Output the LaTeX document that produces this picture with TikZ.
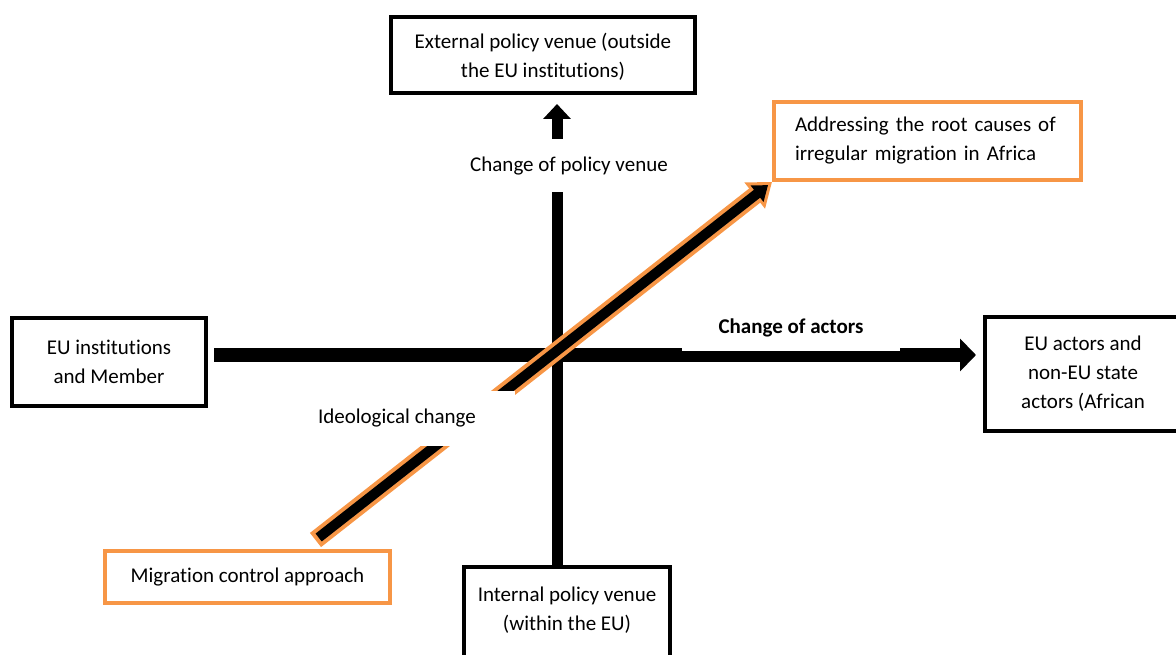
\documentclass[tikz,border=0pt]{standalone}
\usepackage{fontspec}
\setmainfont{Carlito}[Ligatures=NoCommon]
\usetikzlibrary{
  arrows.meta, % For arrow tips
  positioning
}
\definecolor{accentorange}{HTML}{F79646}

\begin{document}
\begin{tikzpicture}[
      x=1pt, y=-1pt, % Pixel-like units, y axis pointing down
      font=\fontsize{21}{29}\selectfont, % Default text
      venuebox/.style={draw=black, line width=4pt, align=center, inner sep=0pt}, % Style for actor/venue boxes
      approachbox/.style={draw=accentorange, line width=4pt, inner sep=0pt}, % Style for the two approaches
      axis/.style={black, -{Triangle[length=16pt,width=32pt]}}, % Style for the thick axes
      axislabel/.style={fill=white, inner sep=0pt}, % Labels cut the lines below them
    ]

    % Frame of the figure
    \clip (0,0) rectangle (1176,655);

    % Boxes at the ends of the axes
    \node[venuebox, minimum width=304pt, minimum height=76pt, text depth=0pt] (external) at (543,55) {External policy venue (outside\\the EU institutions)};
    \node[venuebox, minimum width=194pt, minimum height=88pt] (institutions) at (109,362) {EU institutions\\and Member};
    \node[venuebox, minimum width=196pt, minimum height=114pt] (actors) at (1083,374) {EU actors and\\non-EU state\\actors (African};
    \node[venuebox, minimum width=206pt, minimum height=96pt, text depth=12pt] (internal) at (567,615) {Internal policy venue\\(within the EU)};

    % The two approaches
    \node[approachbox, minimum width=285pt, minimum height=52pt] (control) at (247.5,577) {Migration control approach};
    \node[approachbox, minimum width=307pt, minimum height=78pt, text width=265pt, align=left] (rootcauses) at (927.5,141) {Addressing the root causes of\\irregular migration in Africa};

    % Change of actors (horizontal)
    \coordinate (hstart) at ([yshift=7pt]institutions.east);
    \draw[axis, line width=14pt, shorten <=6pt, shorten >=7pt] (hstart) -- (hstart -| actors.west);

    % Change of policy venue (vertical)
    \coordinate (vstart) at ([xshift=-10pt]internal.north);
    \draw[axis, line width=11pt, shorten >=9pt, -{Triangle[length=15pt,width=27pt]}] (vstart) -- (vstart |- external.south);

    % Ideological change (diagonal, orange rim)
    \coordinate (dstart) at ([xshift=68pt,yshift=9pt]control.north);
    \draw[accentorange, line width=18pt, -{Triangle[length=22pt,width=32pt]}] (dstart) -- (rootcauses.south west);
    \draw[black, line width=10pt, shorten <=4pt, shorten >=5pt, -{Triangle[length=14pt,width=20pt]}] (dstart) -- (rootcauses.south west);

    % Axis labels
    \node[axislabel, minimum width=218pt, minimum height=46pt, font=\fontsize{21}{29}\selectfont\bfseries] (actorslabel) at (791,328) {Change of actors};
    \node[axislabel, minimum width=210pt, minimum height=53pt] (venuelabel) at (569,166) {Change of policy venue};
    \node[axislabel, minimum width=236pt, minimum height=55pt] (ideologylabel) at (397,418) {Ideological change};

  \end{tikzpicture}
\end{document}
